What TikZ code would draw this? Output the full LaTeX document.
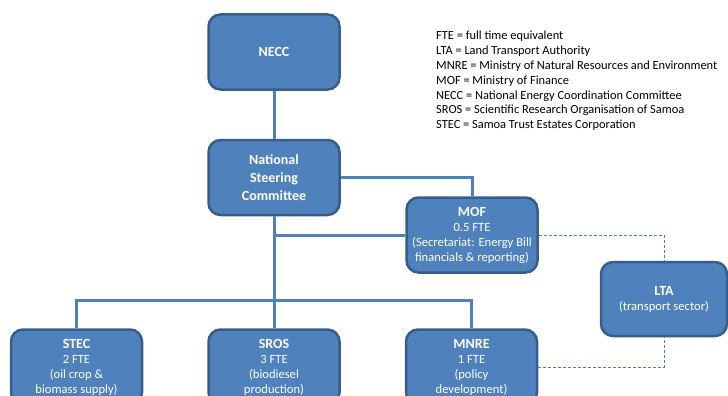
\documentclass[tikz,border=0pt]{standalone}
\usepackage{fontspec}
\setmainfont{Carlito}
\usepackage{xcolor}
\usepackage{tikz}
\usetikzlibrary{positioning}

\definecolor{boxfill}{HTML}{4F81BD}
\definecolor{boxline}{HTML}{385D8A}

\tikzset{
    orgbox/.style={draw=boxline, fill=boxfill, line width=2.5pt,
        rounded corners=12pt, text=white, align=center,
        minimum width=131pt, minimum height=75pt, inner sep=2pt,
        font=\fontsize{12.6}{15}\selectfont},
    headbox/.style={orgbox, font=\fontsize{14}{18}\selectfont\bfseries},
    link/.style={draw=boxfill, line width=3pt},
    dotlink/.style={draw=boxfill, line width=0.8pt, dash pattern=on 3pt off 2pt}
}

\newcommand{\orghead}[1]{\fontsize{14}{17}\selectfont\bfseries #1}

\begin{document}
\begin{tikzpicture}[x=1pt, y=-1pt]

        \def\d{48pt}
        \def\h{64pt}

        \useasboundingbox (0,0) rectangle (728,396);

        % top of the chart
        \node[headbox] (NECC) at (274,52) {NECC};
        \node[headbox, below=\d of NECC] (NSC)
        {National\\Steering\\Committee};

        \node[orgbox] (MOF) at (472,235)
        {\orghead{MOF}\\0.5 FTE\\(Secretariat: Energy Bill\\financials \& reporting)};

        % bottom row
        \node[orgbox, below=112pt of NSC] (SROS)
        {\orghead{SROS}\\3 FTE\\(biodiesel\\production)};
        \node[orgbox, left=\h of SROS] (STEC)
        {\orghead{STEC}\\2 FTE\\(oil crop \&\\biomass supply)};
        \node[orgbox, right=\h of SROS] (MNRE)
        {\orghead{MNRE}\\1 FTE\\(policy\\development)};

        \node[orgbox, minimum width=126pt, minimum height=74pt] (LTA) at (664,299)
        {\orghead{LTA}\\(transport sector)};

        \coordinate[above=28pt of SROS.north] (branch);

        % abbreviations
        \node[anchor=north west, inner sep=0pt, align=left,
            font=\fontsize{12.4}{14.8}\selectfont] (key) at (436,31)
        {FTE = full time equivalent\\
         LTA = Land Transport Authority\\
         MNRE = Ministry of Natural Resources and Environment\\
         MOF = Ministry of Finance\\
         NECC = National Energy Coordination Committee\\
         SROS = Scientific Research Organisation of Samoa\\
         STEC = Samoa Trust Estates Corporation};

        \begin{scope}[link]
            \draw (NECC) -- (NSC);
            \draw (NSC.east) -| (MOF.north);
            \draw (NSC.south) -- (SROS.north);
            \draw (NSC.south |- MOF.west) -- (MOF.west);
            \draw (STEC.north) |- (branch) -| (MNRE.north);
        \end{scope}

        \begin{scope}[dotlink]
            \draw (MOF.east) -| (LTA.north);
            \draw (MNRE.east) -| (LTA.south);
        \end{scope}

\end{tikzpicture}
\end{document}
